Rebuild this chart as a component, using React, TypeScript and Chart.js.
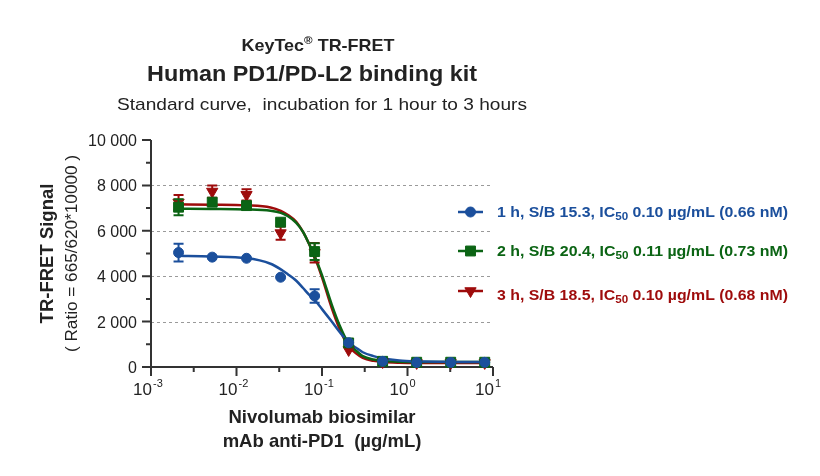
import { useEffect, useRef } from "react"
import { Chart, registerables } from "chart.js"
import { drawPoint } from "chart.js/helpers"

Chart.register(...registerables)

// Nivolumab concentrations (µg/mL), 2.5-fold dilutions
const concentrations = [0.0021, 0.0052, 0.0131, 0.0328, 0.082, 0.205, 0.512, 1.28, 3.2, 8]

// Measured TR-FRET signal (mean) and error (SD) per incubation time
const signal1h = [5040, 4840, 4790, 3955, 3130, 1070, 250, 200, 200, 205]
const error1h = [390, 0, 0, 0, 300, 0, 0, 0, 0, 0]
const signal2h = [7040, 7260, 7110, 6380, 5085, 1060, 250, 210, 210, 210]
const error2h = [350, 0, 0, 0, 370, 0, 0, 0, 0, 0]
const signal3h = [7250, 7730, 7585, 5900, 5030, 750, 220, 180, 180, 180]
const error3h = [330, 270, 250, 290, 430, 0, 0, 0, 0, 0]

// Fitted curves at these concentrations
const fitConc = [0.002, 0.005, 0.013, 0.025, 0.033, 0.04, 0.05, 0.06, 0.07, 0.083, 0.1, 0.13, 0.16, 0.2, 0.25, 0.3, 0.4, 0.52, 0.8, 1.3, 3.2, 8]
const fit1h = [4900, 4870, 4800, 4550, 4300, 4080, 3800, 3480, 3200, 2930, 2550, 2000, 1550, 1120, 850, 650, 480, 380, 290, 250, 225, 220]
const fit2h = [6970, 6960, 6940, 6880, 6790, 6640, 6350, 5950, 5450, 4850, 4050, 2750, 1850, 1100, 720, 480, 330, 270, 230, 220, 220, 220]
const fit3h = [7170, 7150, 7120, 7030, 6880, 6700, 6400, 5950, 5450, 4800, 3950, 2600, 1700, 960, 600, 400, 270, 220, 190, 180, 180, 180]

// Axes
const yTicks = [0, 2000, 4000, 6000, 8000, 10000]
const yTickLabels = ["0", "2 000", "4 000", "6 000", "8 000", "10 000"]
const yMinorTicks = [1000, 3000, 5000, 7000, 9000]
const yGridLines = [2000, 4000, 6000, 8000]
const xTicks = [0.001, 0.01, 0.1, 1, 10]
const xTickExponents = ["-3", "-2", "-1", "0", "1"]
const xMinorTicks = [0.00316, 0.0316, 0.316, 3.16]

// Legend text: [before subscript, subscript, after subscript]
const legendLabels = [
  ["1 h, S/B 15.3, IC", "50", " 0.10 µg/mL (0.66 nM)"],
  ["2 h, S/B 20.4, IC", "50", " 0.11 µg/mL (0.73 nM)"],
  ["3 h, S/B 18.5, IC", "50", " 0.10 µg/mL (0.68 nM)"],
]

const FONT = '"Liberation Sans", Arial, sans-serif'
const INK = "#222222"
const AXIS = "#333333"

const series = [
  { values: signal1h, errors: error1h, fit: fit1h, color: "#1b4f9c", style: "circle", radius: 5, rotation: 0 },
  { values: signal2h, errors: error2h, fit: fit2h, color: "#0b6414", style: "rect", radius: 7, rotation: 0 },
  { values: signal3h, errors: error3h, fit: fit3h, color: "#9e0b0b", style: "triangle", radius: 6.5, rotation: 180 },
]

function text(ctx: CanvasRenderingContext2D, s: string, x: number, y: number, font: string, align: CanvasTextAlign = "center") {
  ctx.font = font
  ctx.textAlign = align
  ctx.textBaseline = "alphabetic"
  ctx.fillText(s, x, y)
}

// text squeezed/stretched horizontally to a given width (the source font runs wider than Arial)
function textFit(ctx: CanvasRenderingContext2D, s: string, x: number, y: number, font: string, width: number) {
  ctx.save()
  ctx.font = font
  const k = width / ctx.measureText(s).width
  ctx.translate(x, y)
  ctx.scale(k, 1)
  text(ctx, s, 0, 0, font)
  ctx.restore()
}

const overlay = {
  id: "overlay",
  beforeDatasetsDraw(chart: Chart) {
    const { ctx, chartArea } = chart
    const x = chart.scales.x
    const y = chart.scales.y
    ctx.save()
    // dashed grid
    ctx.strokeStyle = "#9a9a9a"
    ctx.lineWidth = 1
    ctx.setLineDash([3, 3])
    yGridLines.forEach((v) => {
      const py = Math.round(y.getPixelForValue(v)) + 0.5
      ctx.beginPath()
      ctx.moveTo(chartArea.left, py)
      ctx.lineTo(chartArea.right, py)
      ctx.stroke()
    })
    ctx.setLineDash([])
    // axes
    ctx.strokeStyle = AXIS
    ctx.lineWidth = 2
    const x0 = chartArea.left
    const y0 = chartArea.bottom
    ctx.beginPath()
    ctx.moveTo(x0, chartArea.top)
    ctx.lineTo(x0, y0)
    ctx.lineTo(chartArea.right, y0)
    yTicks.forEach((v) => {
      const py = y.getPixelForValue(v)
      ctx.moveTo(x0 - 9, py)
      ctx.lineTo(x0, py)
    })
    yMinorTicks.forEach((v) => {
      const py = y.getPixelForValue(v)
      ctx.moveTo(x0 - 5, py)
      ctx.lineTo(x0, py)
    })
    xTicks.forEach((v) => {
      const px = x.getPixelForValue(v)
      ctx.moveTo(px, y0)
      ctx.lineTo(px, y0 + 9)
    })
    xMinorTicks.forEach((v) => {
      const px = x.getPixelForValue(v)
      ctx.moveTo(px, y0)
      ctx.lineTo(px, y0 + 5)
    })
    ctx.stroke()
    ctx.restore()
  },
  beforeDatasetDraw(chart: Chart, args: { index: number }) {
    const s = series[args.index]
    if (!s) return
    const { ctx } = chart
    const x = chart.scales.x
    const y = chart.scales.y
    ctx.save()
    ctx.strokeStyle = s.color
    ctx.lineWidth = 2
    concentrations.forEach((c, i) => {
      const e = s.errors[i]
      if (!e) return
      const px = x.getPixelForValue(c)
      const top = y.getPixelForValue(s.values[i] + e)
      const bottom = y.getPixelForValue(s.values[i] - e)
      ctx.beginPath()
      ctx.moveTo(px, top)
      ctx.lineTo(px, bottom)
      ctx.moveTo(px - 5, top)
      ctx.lineTo(px + 5, top)
      ctx.moveTo(px - 5, bottom)
      ctx.lineTo(px + 5, bottom)
      ctx.stroke()
    })
    ctx.restore()
  },
  afterDraw(chart: Chart) {
    const { ctx, chartArea } = chart
    const x = chart.scales.x
    const y = chart.scales.y
    const cx = (chartArea.left + chartArea.right) / 2
    ctx.save()
    ctx.fillStyle = INK

    // titles
    const t1 = `bold 17px ${FONT}`
    const tReg = `bold 11px ${FONT}`
    ctx.font = t1
    const wKey = ctx.measureText("KeyTec").width
    const wRest = ctx.measureText(" TR-FRET").width
    ctx.font = tReg
    const wReg = ctx.measureText("®").width
    const k1 = 153 / (wKey + wReg + wRest)
    ctx.save()
    ctx.translate(318 - 153 / 2, 51)
    ctx.scale(k1, 1)
    text(ctx, "KeyTec", 0, 0, t1, "left")
    text(ctx, "®", wKey, -7, tReg, "left")
    text(ctx, " TR-FRET", wKey + wReg, 0, t1, "left")
    ctx.restore()
    textFit(ctx, "Human PD1/PD-L2 binding kit", 312, 81, `bold 22px ${FONT}`, 330)
    textFit(ctx, "Standard curve,  incubation for 1 hour to 3 hours", 322, 110, `17px ${FONT}`, 410)

    // y tick labels
    yTicks.forEach((v, i) => {
      text(ctx, yTickLabels[i], chartArea.left - 14, y.getPixelForValue(v) + 6, `16px ${FONT}`, "right")
    })

    // x tick labels (10 with superscript exponent)
    xTicks.forEach((v, i) => {
      const px = x.getPixelForValue(v)
      text(ctx, "10", px + 1, 395, `17px ${FONT}`, "right")
      text(ctx, xTickExponents[i], px + 2, 387, `11px ${FONT}`, "left")
    })

    // axis titles
    text(ctx, "Nivolumab biosimilar", cx, 423, `bold 18.5px ${FONT}`)
    text(ctx, "mAb anti-PD1  (µg/mL)", cx, 447, `bold 18.5px ${FONT}`)
    const my = (chartArea.top + chartArea.bottom) / 2
    ctx.save()
    ctx.translate(53, my)
    ctx.rotate(-Math.PI / 2)
    text(ctx, "TR-FRET Signal", 0, 0, `bold 18.5px ${FONT}`)
    ctx.restore()
    ctx.save()
    ctx.translate(77, my)
    ctx.rotate(-Math.PI / 2)
    textFit(ctx, "( Ratio = 665/620*10000 )", 0, 0, `16px ${FONT}`, 197)
    ctx.restore()

    // legend
    const lineY = [212, 251, 291]
    const textY = [217, 256, 300]
    const f = `bold 15px ${FONT}`
    const fs = `bold 11px ${FONT}`
    series.forEach((s, i) => {
      ctx.strokeStyle = s.color
      ctx.fillStyle = s.color
      ctx.lineWidth = 2.5
      ctx.beginPath()
      ctx.moveTo(458, lineY[i])
      ctx.lineTo(483, lineY[i])
      ctx.stroke()
      ctx.lineWidth = 1
      drawPoint(ctx, { pointStyle: s.style as any, radius: s.radius, rotation: s.rotation, borderWidth: 1 }, 470.5, lineY[i])
      const [a, sub, b] = legendLabels[i]
      ctx.font = f
      const wa = ctx.measureText(a).width
      const wb = ctx.measureText(b).width
      ctx.font = fs
      const ws = ctx.measureText(sub).width
      ctx.save()
      ctx.translate(497, textY[i])
      ctx.scale(291 / (wa + ws + wb), 1)
      text(ctx, a, 0, 0, f, "left")
      text(ctx, sub, wa, 3, fs, "left")
      text(ctx, b, wa + ws, 0, f, "left")
      ctx.restore()
    })
    ctx.restore()
  },
}

export default function App() {
  const canvasRef = useRef<HTMLCanvasElement>(null)
  const chartRef = useRef<Chart | null>(null)

  useEffect(() => {
    document.body.style.margin = "0"
    if (!canvasRef.current) return
    if (chartRef.current) chartRef.current.destroy()
    const ctx = canvasRef.current.getContext("2d")
    if (!ctx) return

    const pointSets = series.map((s, i) => ({
      data: concentrations.map((c, j) => ({ x: c, y: s.values[j] })),
      showLine: false,
      pointStyle: s.style as any,
      pointRadius: s.radius,
      pointRotation: s.rotation,
      pointBackgroundColor: s.color,
      pointBorderColor: s.color,
      pointBorderWidth: 1,
      order: i,
      clip: false as const,
    }))
    const fitSets = series.map((s, i) => ({
      data: fitConc.map((c, j) => ({ x: c, y: s.fit[j] })),
      showLine: true,
      borderColor: s.color,
      borderWidth: 2.5,
      pointRadius: 0,
      cubicInterpolationMode: "monotone" as const,
      order: 3 + i,
      clip: false as const,
    }))

    chartRef.current = new Chart(ctx, {
      type: "scatter",
      data: { datasets: [...pointSets, ...fitSets] },
      options: {
        animation: false,
        responsive: true,
        maintainAspectRatio: false,
        layout: { padding: { left: 151, right: 327, top: 140, bottom: 109 } },
        scales: {
          x: { type: "logarithmic", min: 0.001, max: 10, display: false },
          y: { type: "linear", min: 0, max: 10000, display: false },
        },
        plugins: {
          legend: { display: false },
          tooltip: { enabled: false },
        },
      },
      plugins: [overlay],
    })

    return () => {
      if (chartRef.current) {
        chartRef.current.destroy()
        chartRef.current = null
      }
    }
  }, [])

  return (
    <div style={{ position: "relative", width: 820, height: 476 }}>
      <canvas ref={canvasRef} />
    </div>
  )
}
